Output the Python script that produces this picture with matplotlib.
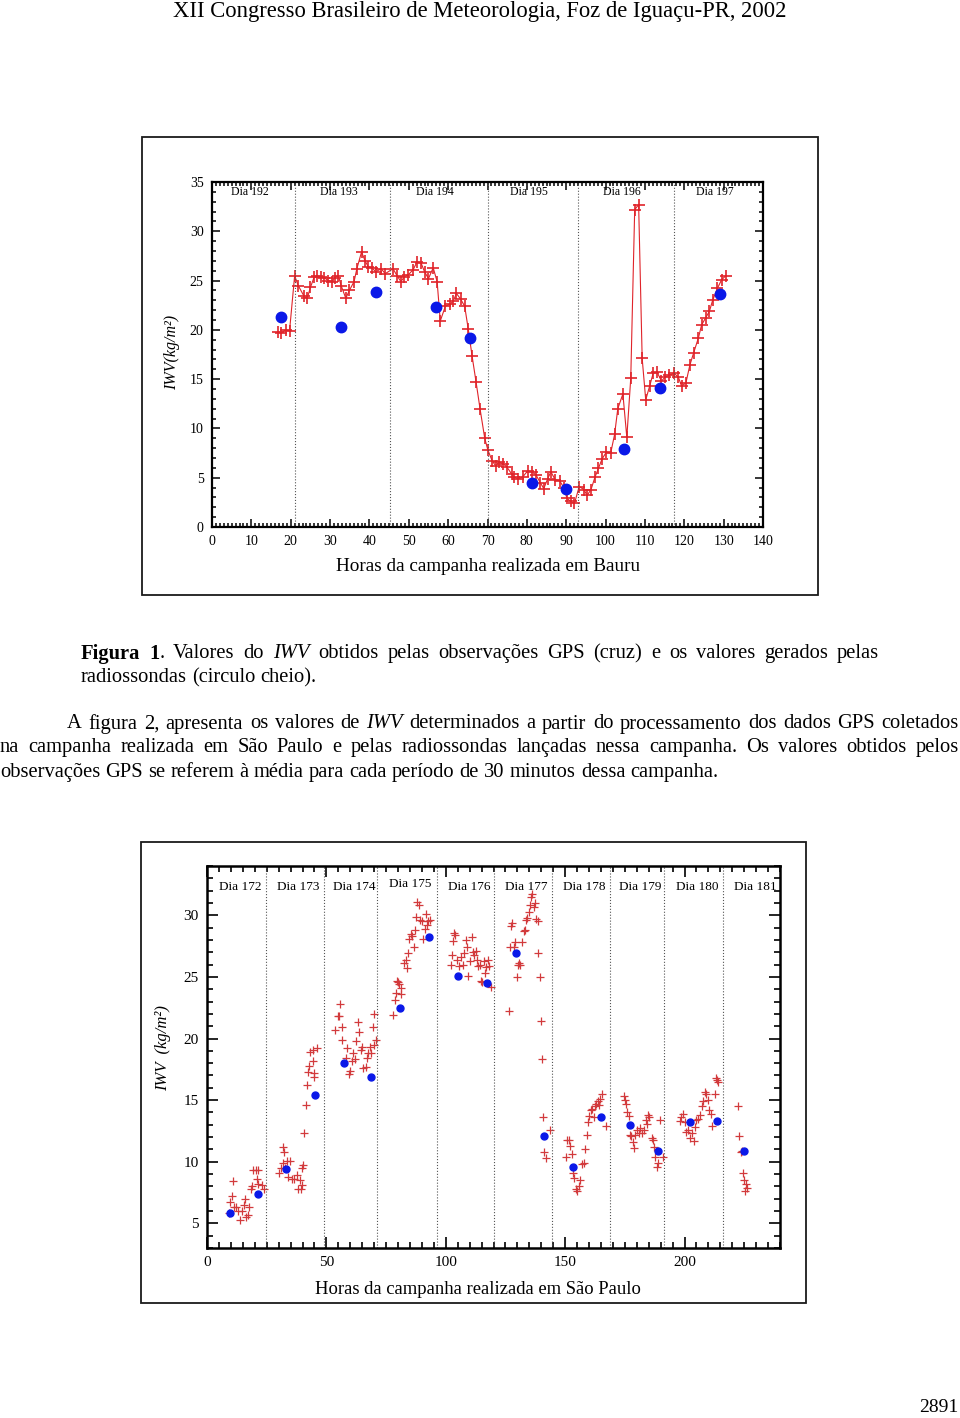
import matplotlib
matplotlib.use("Agg")
import matplotlib.pyplot as plt
from matplotlib.patches import Rectangle
from matplotlib.ticker import MultipleLocator

plt.rcParams['font.family'] = ['Liberation Serif', 'DejaVu Serif']

## data - Bauru campaign (figure 1)
bauru_gps_hours = [16.8, 17.6, 18.7, 19.7, 21.0, 21.9, 23.4, 24.2, 25.0, 26.0, 26.7, 27.6, 28.5, 29.5,
                   30.4, 31.2, 32.1, 32.8, 34.0, 34.9, 36.1, 36.8, 38.0, 38.9, 39.7, 40.6, 41.6, 43.0,
                   44.0, 46.0, 47.0, 48.0, 48.9, 49.9, 51.1, 52.1, 53.1, 54.0, 55.0, 56.2, 57.2, 58.0,
                   59.3, 60.4, 61.3, 62.1, 63.2, 64.2, 65.1, 66.1, 67.1, 68.1, 69.3, 70.1, 71.2, 72.1,
                   72.9, 74.0, 74.9, 76.1, 76.8, 77.8, 78.9, 80.2, 81.2, 82.3, 83.4, 84.3, 85.3, 86.1,
                   87.2, 88.3, 89.4, 90.2, 91.1, 92.1, 93.3, 94.5, 95.3, 96.3, 97.3, 98.2, 99.1, 100.2,
                   101.3, 102.3, 103.1, 104.4, 105.4, 106.4, 107.4, 108.4, 109.3, 110.2, 111.2, 112.1,
                   113.1, 114.2, 115.1, 116.2, 117.4, 118.5, 119.3, 120.4, 121.4, 122.4, 123.6, 124.4,
                   125.4, 126.4, 127.2, 128.4, 129.5, 130.6]
bauru_gps_iwv = [19.8, 19.7, 20.0, 19.9, 25.5, 24.5, 23.4, 23.2, 24.3, 25.4, 25.5, 25.4, 25.3, 25.0,
                 24.9, 25.3, 25.5, 24.5, 23.2, 24.0, 24.9, 26.2, 27.9, 27.0, 26.4, 26.3, 25.9, 26.2,
                 25.7, 26.2, 25.5, 24.9, 25.4, 25.6, 26.1, 26.9, 26.8, 25.9, 25.2, 26.3, 24.9, 20.9,
                 22.4, 22.6, 22.9, 23.7, 23.1, 22.4, 20.1, 17.3, 14.7, 12.0, 9.0, 7.8, 6.7, 6.2,
                 6.6, 6.4, 6.1, 5.4, 5.05, 4.9, 5.05, 5.7, 5.6, 5.3, 4.5, 3.9, 4.9, 5.6,
                 4.8, 4.7, 4.0, 2.9, 2.6, 2.4, 4.1, 3.8, 3.2, 3.8, 5.05, 5.96, 6.9, 7.6,
                 7.5, 9.4, 12.0, 13.5, 9.1, 15.1, 32.2, 32.7, 17.1, 12.9, 14.3, 15.6,
                 15.7, 14.8, 15.2, 15.4, 15.6, 15.2, 14.3, 14.6, 16.4, 17.7, 19.2, 20.5,
                 21.2, 21.9, 23.0, 24.2, 25.1, 25.5]
bauru_rs_hours = [17.6, 32.7, 41.6, 56.8, 65.5, 81.2, 90.0, 104.8, 113.9, 129.1]
bauru_rs_iwv = [21.3, 20.3, 23.8, 22.3, 19.2, 4.5, 3.9, 7.9, 14.1, 23.6]
bauru_day_bounds = [21.2, 45.1, 70.0, 93.1, 117.3]
bauru_days = ['Dia 192', 'Dia 193', 'Dia 194', 'Dia 195', 'Dia 196', 'Dia 197']

## data - Sao Paulo campaign (figure 2)
sp_gps_hours = [9.2, 9.6, 10.3, 11.0, 11.5, 12.2, 13.1, 14.0, 14.5, 15.4, 15.9, 16.5, 17.1, 17.6, 18.4, 19.0,
                19.4, 20.4, 21.5, 21.1, 21.5, 22.9, 23.8,
                30.2, 31.0, 32.0, 32.0, 32.4, 32.7, 33.4, 34.1, 34.8, 35.8, 36.6, 37.5, 38.3, 38.8, 39.4,
                39.7, 39.7, 40.1, 40.8, 41.5, 41.9, 42.5, 42.8, 43.3, 44.2, 44.2, 45.0, 45.0, 46.0,
                53.8, 54.7, 55.2, 55.6, 56.5, 56.7, 58.1, 58.7, 59.4, 59.9, 60.6, 61.3, 61.9, 62.6,
                63.1, 63.5, 64.4, 64.9, 65.5, 66.4, 67.1, 67.6, 68.2, 68.9, 69.4, 69.8, 70.0, 70.9,
                77.8, 78.6, 79.0, 79.5, 80.2, 80.5, 81.1, 81.4, 82.5, 83.2, 83.6, 84.3, 84.7, 85.4,
                85.7, 86.5, 87.0, 87.5, 87.9, 88.6, 89.1, 90.0, 90.6, 91.3, 91.8, 92.2, 92.7, 93.3,
                102.2, 102.8, 103.1, 103.5, 104.0, 104.8, 105.5, 106.2, 107.1, 107.6, 108.3, 108.9,
                109.4, 110.1, 110.9, 111.4, 112.0, 112.5, 113.0, 113.5, 114.3, 114.8, 115.3, 115.9,
                116.4, 117.0, 117.5, 118.0, 119.1,
                126.3, 127.0, 127.5, 127.9, 128.4, 128.9, 129.7, 130.2, 130.8, 131.3, 132.0, 132.6,
                133.3, 133.8, 134.2, 134.7, 135.2, 135.8, 136.3, 136.9, 137.2, 137.8, 138.5, 138.8,
                139.4, 139.7, 140.3, 140.6, 141.3, 141.9, 143.5,
                150.3, 150.9, 151.6, 152.1, 152.8, 153.4, 153.9, 154.4, 155.0, 155.7, 156.4, 157.0,
                157.7, 158.4, 159.1, 159.6, 160.2, 160.7, 161.4, 162.0, 162.5, 163.0, 163.6, 164.1,
                164.7, 165.4, 167.2,
                174.5, 175.1, 175.6, 176.1, 176.7, 177.2, 177.8, 178.3, 178.8, 179.4, 180.1, 180.8,
                181.5, 182.2, 183.0, 183.7, 184.2, 184.8, 185.3, 186.2, 186.7, 187.3, 187.8, 188.3,
                188.7, 189.8, 190.9,
                198.2, 198.7, 199.5, 200.0, 200.7, 201.4, 202.2, 203.0, 203.8, 204.5, 205.0, 205.7,
                206.5, 207.2, 207.9, 208.4, 209.0, 209.7, 210.2, 210.9, 211.7, 212.6, 213.1, 213.6,
                214.2,
                222.4, 223.0, 223.5, 224.2, 224.6, 225.1, 225.6, 226.0, 225.3]
sp_gps_iwv = [5.8, 6.7, 7.2, 8.4, 6.35, 6.3, 6.0, 5.3, 6.0, 6.5, 7.0, 5.5, 5.7, 6.3, 7.8, 8.0,
              9.3, 9.3, 9.3, 8.6, 8.2, 8.1, 7.8,
              9.1, 9.5, 9.9, 11.2, 10.8, 9.5, 10.1, 8.8, 10.1, 8.6, 8.6, 8.9, 7.8, 8.5, 7.8,
              8.1, 9.5, 9.7, 12.35, 14.6, 16.2, 17.3, 17.8, 18.9, 19.05, 18.2, 17.2, 16.9, 19.2,
              20.7, 21.8, 21.8, 22.8, 20.9, 19.9, 18.4, 19.2, 17.1, 17.4, 18.2, 18.8, 18.3, 19.8,
              21.3, 20.5, 19.1, 19.3, 17.6, 17.7, 18.4, 18.8, 19.3, 18.8, 20.9, 22.0, 19.5, 19.9,
              21.9, 23.1, 23.7, 24.7, 24.6, 24.4, 23.6, 24.1, 26.1, 26.4, 25.7, 26.9, 28.1, 28.5,
              28.3, 27.4, 28.8, 29.9, 31.1, 30.8, 29.6, 29.5, 28.1, 28.9, 30.1, 29.2, 29.5, 29.6,
              26.0, 26.8, 27.9, 28.6, 28.4, 26.4, 25.9, 26.6, 26.0, 26.9, 28.0, 27.4,
              25.1, 26.3, 28.2, 27.0, 26.8, 27.1, 26.4, 25.9, 26.0, 24.7, 24.6, 26.3,
              25.3, 25.8, 26.4, 25.9, 24.2,
              22.2, 27.4, 29.1, 29.4, 27.4, 27.8, 25.0, 26.0, 26.1, 26.0, 27.8, 28.7,
              28.8, 29.6, 29.8, 30.3, 30.8, 31.5, 31.7, 30.7, 31.0, 29.7, 29.5, 26.9,
              25.0, 21.4, 18.3, 13.6, 10.8, 10.3, 12.6,
              10.35, 11.8, 11.8, 11.3, 10.6, 9.1, 8.7, 7.8, 7.6, 8.0, 8.5, 9.8,
              9.9, 11.0, 12.2, 13.2, 13.7, 14.2, 14.3, 13.6, 14.5, 14.7, 14.9, 14.6,
              15.1, 15.5, 12.9,
              15.3, 15.05, 14.7, 14.05, 13.7, 12.2, 12.1, 11.6, 11.1, 12.2, 12.6, 12.35,
              12.7, 12.35, 12.6, 13.4, 13.05, 13.8, 13.65, 11.9, 11.8, 11.2, 10.35, 9.6,
              9.9, 13.4, 10.35,
              13.3, 13.65, 13.9, 13.2, 12.4, 12.6, 11.9, 12.3, 11.7, 12.8, 13.4, 13.5,
              13.8, 14.5, 14.9, 15.7, 15.5, 15.05, 14.2, 13.9, 12.9, 15.5, 16.8, 16.6,
              16.5,
              14.5, 12.1, 10.8, 10.9, 9.1, 8.5, 8.2, 7.9, 7.6]
sp_rs_hours = [9.7, 21.2, 33.2, 45.2, 57.4, 68.9, 80.9, 92.9, 105.3, 117.1, 129.3, 141.3,
               153.4, 165.0, 177.2, 189.1, 202.5, 213.6, 224.9]
sp_rs_iwv = [5.8, 7.4, 9.4, 15.4, 18.0, 16.9, 22.5, 28.2, 25.1, 24.5, 26.9, 12.1,
             9.6, 13.6, 13.0, 10.9, 13.2, 13.3, 10.9]
sp_day_bounds = [24.7, 49.0, 71.0, 96.5, 120.4, 144.4, 168.7, 191.5, 216.1]
sp_days = ['Dia 172', 'Dia 173', 'Dia 174', 'Dia 175', 'Dia 176', 'Dia 177', 'Dia 178',
           'Dia 179', 'Dia 180', 'Dia 181']

W, H = 960, 1418
fig = plt.figure(figsize=(W / 100, H / 100), dpi=100)
renderer = fig.canvas.get_renderer()


def rect(l, t, r, b):
    return [l / W, 1 - b / H, (r - l) / W, (b - t) / H]


def box(l, t, r, b, lw=1.3):
    fig.add_artist(Rectangle((l / W, 1 - b / H), (r - l) / W, (b - t) / H, transform=fig.transFigure,
                             fill=False, lw=lw, ec='#1a1a1a'))


def put_line(y, x0, tokens, x1=None, size=14.8):
    # tokens: list of words, each word a list of (text, style kwargs)
    words = []
    for tok in tokens:
        segs = []
        for txt, kw in tok:
            t = fig.text(0, 1 - y / H, txt, fontsize=size, va='center', ha='left', **kw)
            segs.append((t, t.get_window_extent(renderer).width))
        words.append(segs)
    widths = [sum(w for _, w in segs) for segs in words]
    if x1 is not None:
        gap = (x1 - x0 - sum(widths)) / (len(words) - 1)
    else:
        gap = size * 100 / 72 * 0.25
    x = x0
    for segs, w in zip(words, widths):
        xx = x
        for t, sw in segs:
            t.set_x(xx / W)
            xx += sw
        x += w + gap


def plain(line, italic=('IWV',)):
    toks = []
    for wd in line.split():
        if wd in italic:
            toks.append([(wd, {'style': 'italic'})])
        else:
            toks.append([(wd, {})])
    return toks


## header
fig.text(480 / W, 1 - 12 / H, 'XII Congresso Brasileiro de Meteorologia, Foz de Iguaçu-PR, 2002',
         fontsize=16.3, ha='center', va='center')

## figure 1 - Bauru
box(142, 137, 818, 595)
ax1 = fig.add_axes(rect(212, 182, 763, 527))
ax1.plot(bauru_gps_hours, bauru_gps_iwv, color='#e0242a', lw=0.8, marker='+', ms=8, mew=1.2)
ax1.plot(bauru_rs_hours, bauru_rs_iwv, 'o', color='#0a18e8', ms=7.5, zorder=3)
for xb in bauru_day_bounds:
    ax1.axvline(xb, color='#555555', ls=':', lw=0.8)
edges = [0] + bauru_day_bounds + [140]
for i, lab in enumerate(bauru_days):
    ax1.text((edges[i] + edges[i + 1]) / 2 - 1, 34.0, lab, fontsize=8.5, ha='center', va='center')
ax1.set_xlim(0, 140)
ax1.set_ylim(0, 35)
ax1.xaxis.set_major_locator(MultipleLocator(10))
ax1.xaxis.set_minor_locator(MultipleLocator(1))
ax1.yaxis.set_major_locator(MultipleLocator(5))
ax1.yaxis.set_minor_locator(MultipleLocator(1))
ax1.tick_params(which='both', direction='in', top=True, right=True, width=1.1, labelsize=10)
ax1.tick_params(which='major', length=6, pad=6)
ax1.tick_params(which='minor', length=2.8)
for s in ax1.spines.values():
    s.set_linewidth(1.6)
fig.text(172 / W, 1 - 352 / H, 'IWV(kg/m²)', rotation=90, style='italic', fontsize=11.5,
         ha='center', va='center')
fig.text(488 / W, 1 - 567 / H, 'Horas da campanha realizada em Bauru', fontsize=13.8,
         ha='center', va='center')

## caption and paragraph
bold = {'weight': 'bold'}
cap1 = [[('Figura', bold)], [('1', bold), ('.', {})]] + \
    plain('Valores do IWV obtidos pelas observações GPS (cruz) e os valores gerados pelas')
put_line(654, 81, cap1, x1=879)
put_line(678, 81, plain('radiossondas (circulo cheio).'))
put_line(724, 67, plain('A figura 2, apresenta os valores de IWV determinados a partir do processamento '
                        'dos dados GPS coletados'), x1=959)
put_line(748, 0, plain('na campanha realizada em São Paulo e pelas radiossondas lançadas nessa campanha. '
                       'Os valores obtidos pelos'), x1=959)
put_line(772, 0, plain('observações GPS se referem à média para cada período de 30 minutos dessa campanha.'))

## figure 2 - Sao Paulo
box(141, 842, 806, 1303)
ax2 = fig.add_axes(rect(207, 866, 780, 1248))
ax2.plot(sp_gps_hours, sp_gps_iwv, '+', color='#d23a3c', ms=5.5, mew=0.9)
ax2.plot(sp_rs_hours, sp_rs_iwv, 'o', color='#0a18e8', ms=5, zorder=3)
for xb in sp_day_bounds:
    ax2.axvline(xb, color='#555555', ls=':', lw=0.8)
edges = [0] + sp_day_bounds + [240]
for i, lab in enumerate(sp_days):
    yy = 32.5 if lab == 'Dia 175' else 32.3
    ax2.text((edges[i] + edges[i + 1]) / 2 + 1.5, yy, lab, fontsize=9.5, ha='center', va='center')
ax2.set_xlim(0, 240)
ax2.set_ylim(3, 34)
ax2.xaxis.set_major_locator(MultipleLocator(50))
ax2.xaxis.set_minor_locator(MultipleLocator(5))
ax2.yaxis.set_major_locator(MultipleLocator(5))
ax2.yaxis.set_minor_locator(MultipleLocator(1))
ax2.tick_params(which='both', direction='in', top=True, right=True, width=1.2, labelsize=11)
ax2.tick_params(which='major', length=8, pad=6)
ax2.tick_params(which='minor', length=4)
for s in ax2.spines.values():
    s.set_linewidth(1.8)
fig.text(163 / W, 1 - 1048 / H, 'IWV  (kg/m²)', rotation=90, style='italic', fontsize=12,
         ha='center', va='center')
fig.text(478 / W, 1 - 1290 / H, 'Horas da campanha realizada em São Paulo', fontsize=13.4,
         ha='center', va='center')

## page number
fig.text(958 / W, 1 - 1408 / H, '2891', fontsize=14, ha='right', va='center')

fig.savefig('out.png', dpi=100)
